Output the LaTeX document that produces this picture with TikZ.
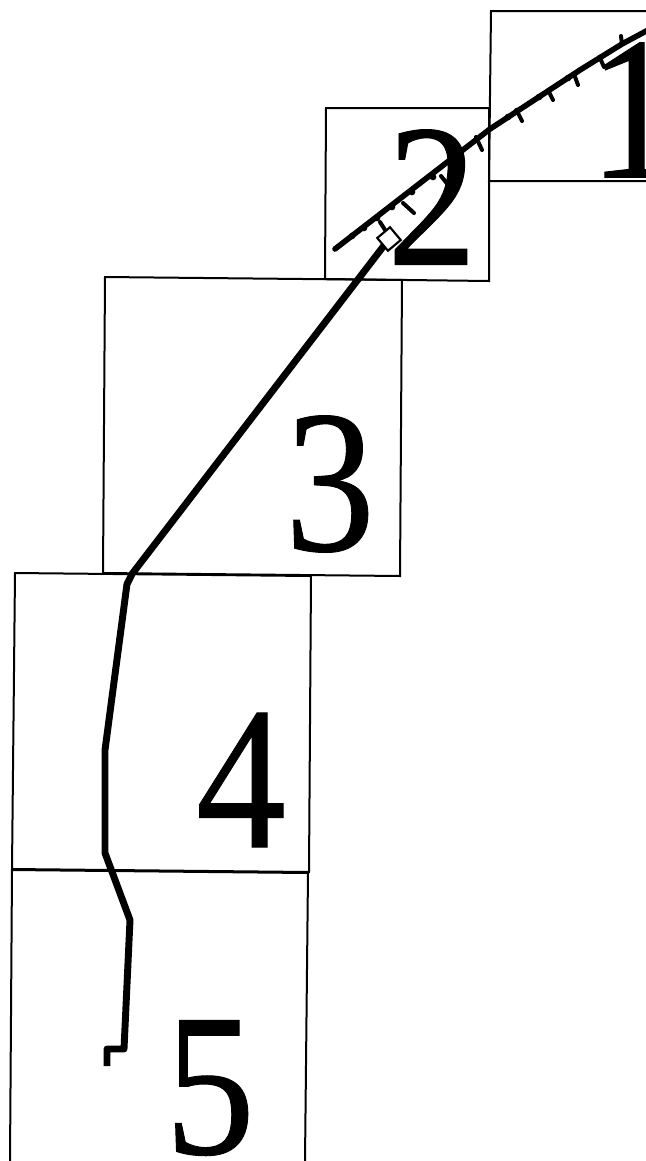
\documentclass[tikz,border=0pt]{standalone}
\usepackage{fontspec}
\setmainfont{Liberation Serif}
\newfontfamily\digitfont[FakeBold=0.45,FakeStretch=0.88]{Liberation Serif}
\begin{document}
\begin{tikzpicture}[x=0.75pt,y=-0.75pt,
  boxline/.style={draw=black,line width=1.5pt,line join=miter},
  digit/.style={inner sep=0pt,font=\digitfont\fontsize{153}{153}\selectfont,text=black},
  track/.style={draw=black,line width=4.2pt,line cap=round,line join=round},
  wire/.style={draw=black,line width=5.2pt,line join=round},
  tick/.style={draw=black,line width=3pt,line cap=round}]
\useasboundingbox (0,0) rectangle (646,1161);
\clip (0,0) rectangle (646,1161);
\fill[white] (0,0) rectangle (646,1161);
% boxes
\draw[boxline] (646,11) -- (491,11) -- (489,181) -- (646,181);
\draw[boxline] (489,108) -- (326,108) -- (325,279) -- (489,281) -- cycle;
\draw[boxline] (105,277) -- (402,280) -- (400,576) -- (103,573) -- cycle;
\draw[boxline] (15,573) -- (311,576) -- (309,872) -- (12,869) -- cycle;
\draw[boxline] (12,870) -- (308,873) -- (305,1161);
\draw[boxline] (12,870) -- (10,1161);
% digits
\node[digit] (n1) at (634,110) {1};
\node[digit] (n2) at (432,197) {2};
\node[digit] (n3) at (330,484) {3};
\node[digit] (n4) at (241,780) {4};
\node[digit] (n5) at (210,1088) {5};
% track
\coordinate (t0) at (335,249);
\coordinate (t1) at (490,129);
\coordinate (t2) at (580,70);
\coordinate (t3) at (622,44);
\coordinate (t4) at (650,29);
\draw[track] (t0) -- (t1) -- (t2) -- (t3) -- (t4);
\foreach \a/\b/\c/\d in {380/222/387/233, 403/203/414/213, 441/176/449/186, 476/137/482/150,
  517/111/522/121, 548/90/553/100, 574/74/578/85, 600/58/604/67, 621/36/622/44}
  \draw[tick] (\a,\b) -- (\c,\d);
\foreach \p/\q in {352/236, 364/228, 377/218, 392/207, 412/192, 433/177, 508/117, 517/111, 539/97, 568/78, 600/58}
  \fill (\p,\q) circle (2.5pt);
% wire
\coordinate (sqc) at (389,239);
\coordinate (w1) at (132,574);
\coordinate (w2) at (127,584);
\coordinate (w3) at (105,750);
\coordinate (w4) at (105,853);
\coordinate (w5) at (130,920);
\coordinate (w6) at (124,1049);
\coordinate (w7) at (107,1049);
\coordinate (w8) at (107,1066);
\draw[wire] (sqc) -- (w1) -- (w2) -- (w3) -- (w4) -- (w5) -- (w6) -- (w7) -- (w8);
\node[draw=black,fill=white,line width=1.6pt,minimum size=12.5pt,inner sep=0pt,rotate=-50] (sq) at (sqc) {};
\end{tikzpicture}
\end{document}
